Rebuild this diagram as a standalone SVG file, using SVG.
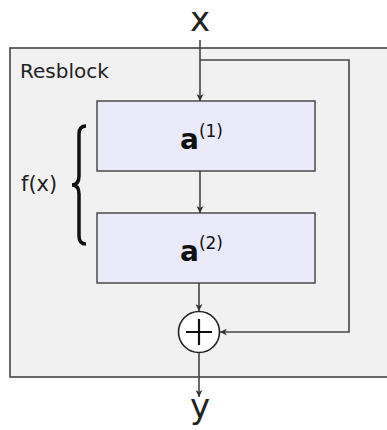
<svg xmlns="http://www.w3.org/2000/svg" width="387" height="430" viewBox="0 0 387 430">
  <style>
    .lbl { font-family: "DejaVu Sans", sans-serif; fill: #222; }
    .wire { fill: none; stroke: #444; stroke-width: 1.6; }
    .layer { fill: #eaeafa; stroke: #555; stroke-width: 1.6; }
    .bold { font-family: "DejaVu Sans", sans-serif; font-weight: bold; fill: #111; }
  </style>
  <defs>
    <marker id="arr" viewBox="0 0 10 10" refX="10" refY="5" markerWidth="8" markerHeight="7" markerUnits="userSpaceOnUse" orient="auto">
      <path d="M0,0 L10,5 L0,10 L3,5 z" fill="#333"/>
    </marker>
  </defs>
  <rect width="387" height="430" fill="#fff"/>

  <g id="resblock">
    <rect x="10" y="48" width="390" height="329" fill="#f1f1f1" stroke="#444" stroke-width="1.6"/>
    <text class="lbl" x="20" y="78" font-size="20">Resblock</text>
  </g>

  <g id="input">
    <text class="lbl" x="200" y="31" font-size="34" text-anchor="middle">x</text>
  </g>

  <g id="layer1">
    <rect class="layer" x="97" y="101" width="218" height="70"/>
    <text class="bold" x="180" y="149" font-size="28">a<tspan font-weight="normal" font-size="17" dy="-12">(1)</tspan></text>
  </g>

  <g id="layer2">
    <rect class="layer" x="97" y="213" width="218" height="70"/>
    <text class="bold" x="180" y="261" font-size="28">a<tspan font-weight="normal" font-size="17" dy="-12">(2)</tspan></text>
  </g>

  <g id="fx">
    <text class="lbl" x="21" y="191" font-size="21">f(x)</text>
    <path d="M86 126 Q79 126 79 134 L79 176 Q79 185 72 185 Q79 185 79 194 L79 236 Q79 244 86 244" fill="none" stroke="#111" stroke-width="3.5"/>
  </g>

  <g id="sum">
    <circle cx="199" cy="332" r="20.5" fill="#fff" stroke="#222" stroke-width="1.6"/>
    <path d="M186 332 H212 M199 319 V345" stroke="#111" stroke-width="2.2"/>
  </g>

  <g id="output">
    <text class="lbl" x="200" y="418" font-size="34" text-anchor="middle">y</text>
  </g>

  <g id="connectors">
    <line class="wire" x1="200" y1="40" x2="200" y2="101" marker-end="url(#arr)"/>
    <polyline class="wire" points="200,60 349,60 349,332 220,332" marker-end="url(#arr)"/>
    <line class="wire" x1="200" y1="171" x2="200" y2="213" marker-end="url(#arr)"/>
    <line class="wire" x1="199" y1="283" x2="199" y2="311" marker-end="url(#arr)"/>
    <line class="wire" x1="199" y1="353" x2="199" y2="397" marker-end="url(#arr)"/>
  </g>
</svg>
